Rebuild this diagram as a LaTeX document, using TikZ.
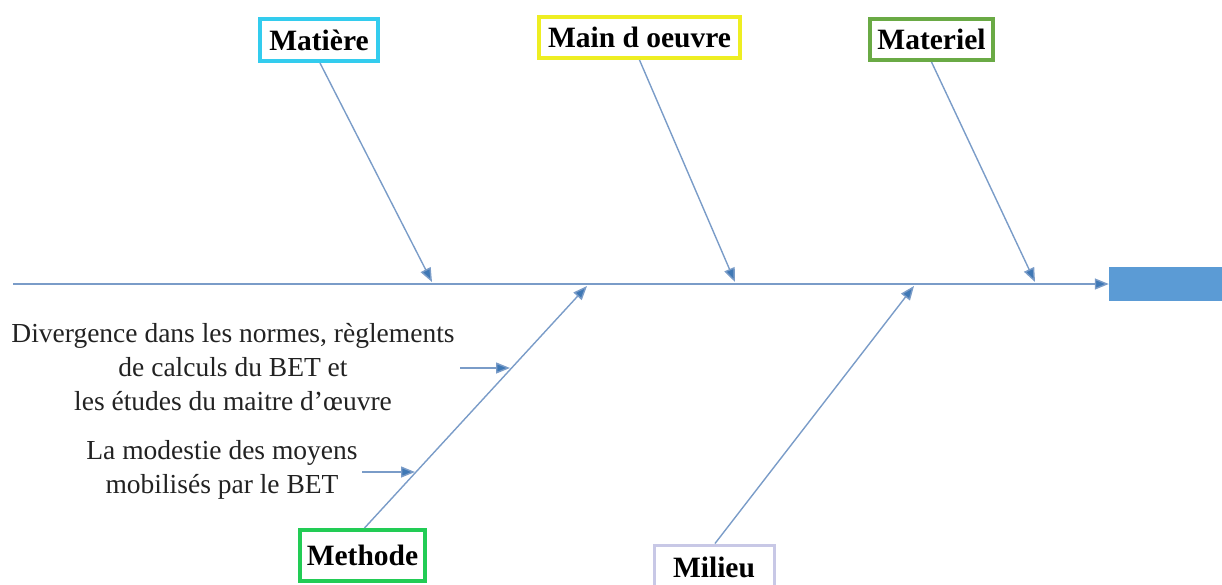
\documentclass[tikz,border=0pt]{standalone}
\usepackage{fontspec}
\setmainfont{LiberationSerif-Regular.ttf}[BoldFont=LiberationSerif-Bold.ttf]
\usetikzlibrary{arrows.meta}
\definecolor{bone}{HTML}{7A9CC8}
\definecolor{tipblue}{HTML}{3F78B5}
\definecolor{effectblue}{HTML}{5B9BD5}
\definecolor{cyanb}{HTML}{33CCEE}
\definecolor{yellowb}{HTML}{EEEE22}
\definecolor{oliveb}{HTML}{6AAA45}
\definecolor{greenb}{HTML}{22CC55}
\definecolor{lavb}{HTML}{C8C8E6}
\definecolor{ink}{HTML}{222222}
\tikzset{
  bone/.style={draw=bone, line width=1.4pt, -{Triangle[length=14pt,width=11pt,fill=tipblue]}},
  catbox/.style={draw=#1, line width=4pt, fill=white, inner sep=0pt,
    font=\fontsize{29.5}{34}\selectfont\bfseries, text=black, anchor=center},
  cause/.style={align=center, font=\fontsize{27.5}{34}\selectfont, text=ink, inner sep=0pt},
}
\begin{document}
\begin{tikzpicture}[x=1pt,y=-1pt]
\useasboundingbox (0,0) rectangle (1222,584);

% effect head
\fill[effectblue] (1109,267) rectangle (1230,301);
\node[inner sep=0pt, minimum width=0pt] (head) at (1109,284) {};

% spine
\coordinate (tail) at (13,284);
\draw[bone] (tail) -- (head);

% category boxes
\node[catbox=cyanb, minimum width=118pt, minimum height=42pt] (mat) at (319,40) {Matière};
\node[catbox=yellowb, minimum width=201pt, minimum height=41pt] (mo) at (639.5,37.5) {Main d oeuvre};
\node[catbox=oliveb, minimum width=123pt, minimum height=41pt] (mtl) at (931.5,39.5) {Materiel};
\node[catbox=greenb, minimum width=125pt, minimum height=51pt] (meth) at (362.5,555.5) {Methode};
\node[catbox=lavb, line width=3pt, minimum width=120pt, minimum height=44pt] (mil) at (714,567) {Milieu};

% junctions on the spine
\coordinate (jmat) at (432,282);
\coordinate (jmo) at (735,282);
\coordinate (jmtl) at (1035,282);
\coordinate (jmeth) at (587,286);
\coordinate (jmil) at (914,286);

% bones
\draw[bone] (mat.south) ++(1,0) -- (jmat);
\draw[bone] (mo.south) -- (jmo);
\draw[bone] (mtl.south) -- (jmtl);
\draw[bone] (meth.north) ++(2,0) -- (jmeth);
\draw[bone] (mil.north) ++(1,0) -- (jmil);

% causes on the method bone
\node[cause] (c1) at (233,367) {Divergence dans les normes, règlements\\de calculs du BET et\\les études du maitre d’œuvre};
\node[cause] (c2) at (222,470) {La modestie des moyens\\mobilisés par le BET};
\coordinate (c1s) at (460,368);
\coordinate (c1e) at (510,368);
\coordinate (c2s) at (362,472);
\coordinate (c2e) at (415,472);
\draw[bone] (c1s) -- (c1e);
\draw[bone] (c2s) -- (c2e);
\end{tikzpicture}
\end{document}
